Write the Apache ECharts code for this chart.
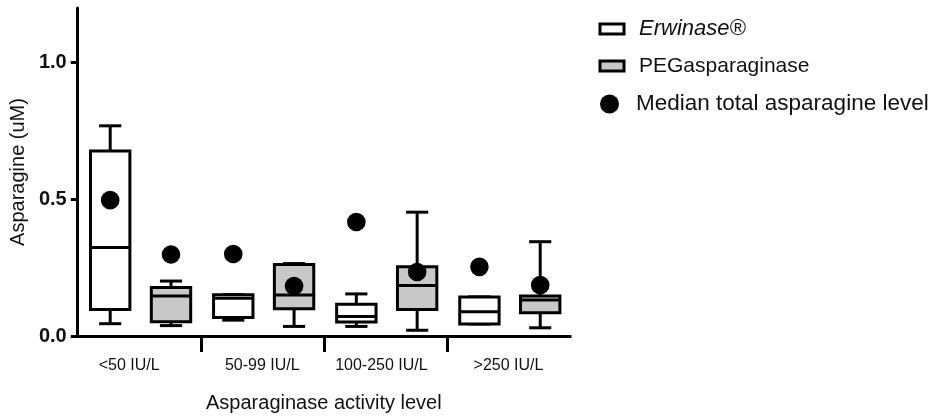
<!DOCTYPE html>
<html>
<head>
<meta charset="utf-8">
<script src="https://cdn.jsdelivr.net/npm/echarts@6/dist/echarts.min.js"></script>
<style>
  html, body { margin: 0; padding: 0; background: #fff; }
  #chart { width: 943px; height: 418px; }
</style>
</head>
<body>
<div id="chart"></div>
<script>
// Asparaginase activity groups
const categories = ['<50 IU/L', '50-99 IU/L', '100-250 IU/L', '>250 IU/L'];

// Box summaries per group: [low whisker, Q1, median, Q3, high whisker] (uM)
const erwinaseBoxes = [
  [0.045, 0.097, 0.324, 0.677, 0.769],
  [0.058, 0.068, 0.138, 0.151, 0.151],
  [0.035, 0.051, 0.071, 0.116, 0.154],
  [0.044, 0.044, 0.089, 0.143, 0.143]
];
const pegBoxes = [
  [0.038, 0.052, 0.146, 0.177, 0.201],
  [0.035, 0.100, 0.150, 0.262, 0.265],
  [0.021, 0.097, 0.185, 0.253, 0.453],
  [0.030, 0.085, 0.132, 0.146, 0.345]
];

// Median total asparagine level per group
const erwinaseMedian = [0.497, 0.300, 0.417, 0.253];
const pegMedian = [0.298, 0.183, 0.234, 0.186];

// Axis tick labels
const yTickValues = [0, 0.5, 1.0];
const groupBoundaries = [1, 2, 3];

const seriesNames = ['Erwinase®', 'PEGasparaginase', 'Median total asparagine level'];

// Horizontal placement within a category band (fractions of band width)
const ERW_OFFSET = -0.236;
const PEG_OFFSET = 0.258;
const BOX_FRAC = 0.32;
const CAP_FRAC = 0.18;
const LINE_W = 3;

// Extra right padding per category label (nudges a label to the left)
const LABEL_NUDGE = [20, 0, 8, 0];

function boxRenderer(offsetFrac, fill) {
  return function (params, api) {
    const cat = api.value(0);
    const band = api.size([1, 0])[0];
    const cx = api.coord([cat, 0])[0] + band * offsetFrac;
    const y = (i) => api.coord([cat, api.value(i)])[1];
    const yLow = y(1), yQ1 = y(2), yMed = y(3), yQ3 = y(4), yHigh = y(5);
    const half = band * BOX_FRAC / 2;
    const capHalf = band * CAP_FRAC / 2;
    const stroke = { stroke: '#000', lineWidth: LINE_W, lineCap: 'butt' };
    return {
      type: 'group',
      children: [
        { type: 'line', shape: { x1: cx, y1: yQ1, x2: cx, y2: yLow }, style: stroke },
        { type: 'line', shape: { x1: cx - capHalf, y1: yLow, x2: cx + capHalf, y2: yLow }, style: stroke },
        { type: 'line', shape: { x1: cx, y1: yQ3, x2: cx, y2: yHigh }, style: stroke },
        { type: 'line', shape: { x1: cx - capHalf, y1: yHigh, x2: cx + capHalf, y2: yHigh }, style: stroke },
        { type: 'rect', shape: { x: cx - half, y: yQ3, width: half * 2, height: yQ1 - yQ3 },
          style: { fill: fill, stroke: '#000', lineWidth: LINE_W, lineJoin: 'miter' } },
        { type: 'line', shape: { x1: cx - half, y1: yMed, x2: cx + half, y2: yMed }, style: stroke }
      ]
    };
  };
}

function dotRenderer(params, api) {
  const cat = api.value(0);
  const band = api.size([1, 0])[0];
  const offset = api.value(2) < 0 ? ERW_OFFSET : PEG_OFFSET;
  const p = api.coord([cat, api.value(1)]);
  return {
    type: 'circle',
    shape: { cx: p[0] + band * offset, cy: p[1], r: 9.3 },
    style: { fill: '#000' }
  };
}

const erwData = erwinaseBoxes.map((b, i) => [i].concat(b));
const pegData = pegBoxes.map((b, i) => [i].concat(b));
const dotData = erwinaseMedian.map((v, i) => [i, v, -1])
  .concat(pegMedian.map((v, i) => [i, v, 1]));

const FONT = '"Liberation Sans", Arial, Helvetica, sans-serif';

const labelRich = {};
LABEL_NUDGE.forEach((p, i) => {
  labelRich['n' + i] = { fontFamily: FONT, fontSize: 16, color: '#111', padding: [0, p, 0, 0] };
});

const chart = echarts.init(document.getElementById('chart'), null, { renderer: 'canvas' });
chart.setOption({
  backgroundColor: '#fff',
  animation: false,
  textStyle: { fontFamily: FONT, color: '#111' },
  grid: { left: 76, top: 8, width: 494, height: 329.5, containLabel: false },
  legend: [
    {
      orient: 'vertical', left: 598.5, top: 16, itemGap: 11, padding: 0,
      itemWidth: 24, itemHeight: 10, selectedMode: false,
      textStyle: { fontFamily: FONT, fontSize: 22, lineHeight: 26, color: '#111', padding: [0, 0, 0, 10] },
      data: [
        { name: seriesNames[0], icon: 'rect',
          itemStyle: { color: '#fff', borderColor: '#000', borderWidth: 3 },
          textStyle: { fontStyle: 'italic', fontSize: 22 } },
        { name: seriesNames[1], icon: 'rect',
          itemStyle: { color: '#c8c8c8', borderColor: '#000', borderWidth: 3 },
          textStyle: { fontSize: 21 } }
      ]
    },
    {
      orient: 'vertical', left: 600, top: 91, padding: 0,
      itemWidth: 19, itemHeight: 19, selectedMode: false,
      textStyle: { fontFamily: FONT, fontSize: 22.5, lineHeight: 26, color: '#111', padding: [0, 0, 0, 12] },
      data: [{ name: seriesNames[2], icon: 'circle', itemStyle: { color: '#000' } }]
    }
  ],
  xAxis: [
    {
      type: 'category',
      data: categories,
      boundaryGap: true,
      axisLine: { lineStyle: { color: '#000', width: 3, cap: 'square' } },
      axisTick: { show: false },
      axisLabel: {
        fontFamily: FONT, fontSize: 16, color: '#111', margin: 22, interval: 0,
        formatter: (value, index) => '{n' + index + '|' + value + '}',
        rich: labelRich
      },
      name: 'Asparaginase activity level',
      nameLocation: 'middle',
      nameGap: 57,
      nameTextStyle: { fontFamily: FONT, fontSize: 20, color: '#111' },
      splitLine: { show: false }
    },
    {
      // group separators below the axis line
      type: 'value', position: 'bottom', min: 0, max: categories.length,
      axisLine: { show: false },
      axisLabel: { show: false },
      splitLine: { show: false },
      axisTick: { show: true, inside: false, length: 16, customValues: groupBoundaries,
        lineStyle: { color: '#000', width: 3 } }
    }
  ],
  yAxis: {
    type: 'value',
    min: 0, max: 1.2,
    axisLine: { show: true, lineStyle: { color: '#000', width: 3 } },
    axisTick: { show: true, length: 7, customValues: yTickValues, lineStyle: { color: '#000', width: 3 } },
    axisLabel: { customValues: yTickValues, formatter: (v) => v.toFixed(1),
      fontFamily: FONT, fontSize: 20, fontWeight: 'bold', color: '#111', margin: 11 },
    splitLine: { show: false },
    name: 'Asparagine (uM)',
    nameLocation: 'middle',
    nameGap: 48,
    nameTextStyle: { fontFamily: FONT, fontSize: 20, color: '#111' }
  },
  series: [
    { name: seriesNames[0], type: 'custom', xAxisIndex: 0, renderItem: boxRenderer(ERW_OFFSET, '#fff'),
      itemStyle: { color: '#fff', borderColor: '#000' }, data: erwData, z: 2 },
    { name: seriesNames[1], type: 'custom', xAxisIndex: 0, renderItem: boxRenderer(PEG_OFFSET, '#c8c8c8'),
      itemStyle: { color: '#c8c8c8', borderColor: '#000' }, data: pegData, z: 2 },
    { name: seriesNames[2], type: 'custom', xAxisIndex: 0, renderItem: dotRenderer,
      itemStyle: { color: '#000' }, data: dotData, z: 3 }
  ]
});
</script>
</body>
</html>
